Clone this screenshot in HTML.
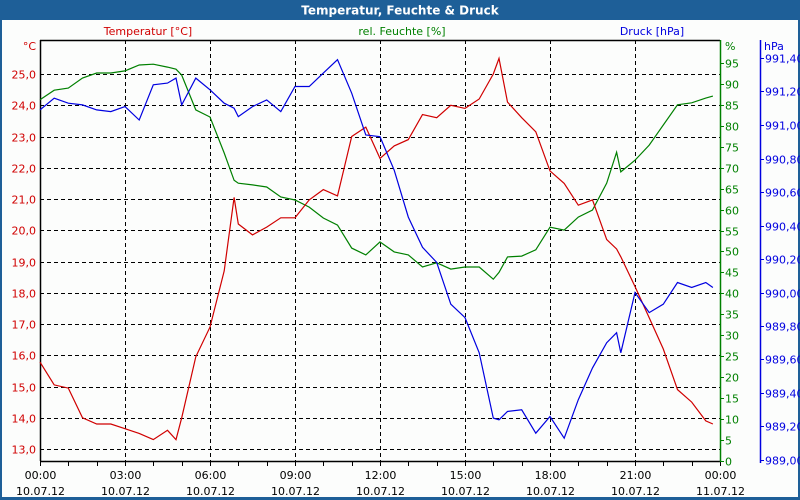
<!DOCTYPE html>
<html><head><meta charset="utf-8"><style>
body{margin:0;background:#fff;}
svg{display:block;font-family:"DejaVu Sans","Liberation Sans",sans-serif;}
</style></head><body>
<svg id="chart" width="800" height="500" xmlns="http://www.w3.org/2000/svg">
<rect x="0" y="0" width="800" height="500" fill="#1e5f98"/>
<rect x="2" y="20" width="796" height="477" fill="#fcfdfc"/>
<text x="400" y="14.5" text-anchor="middle" fill="#fff" font-weight="bold" font-size="12">Temperatur, Feuchte &amp; Druck</text>
<g id="grid"></g>
<g id="axes"></g>
<g id="series"></g>
</svg>
<script>
const times = [0,0.5,1,1.5,2,2.5,3,3.5,4,4.5,4.8,5,5.5,6,6.5,6.85,7,7.5,8,8.5,9,9.5,10,10.5,11,11.5,12,12.5,13,13.5,14,14.5,15,15.5,16,16.2,16.5,17,17.5,18,18.5,19,19.5,20,20.35,20.5,21,21.5,22,22.5,23,23.5,23.75];
const tempValues = [15.78,15.05,14.95,14.0,13.8,13.8,13.65,13.5,13.3,13.6,13.3,14.0,15.95,16.9,18.7,21.05,20.2,19.85,20.1,20.4,20.4,20.97,21.3,21.1,23.0,23.3,22.3,22.7,22.9,23.7,23.6,24.0,23.9,24.2,25.0,25.5,24.1,23.6,23.15,21.9,21.5,20.8,20.97,19.7,19.4,19.15,18.2,17.2,16.2,14.9,14.5,13.9,13.8];
const humidityValues = [86.2,88.5,89,91.4,92.6,92.6,93.1,94.5,94.7,94,93.5,92.1,83.8,82.1,73.5,67,66.3,65.9,65.4,63,62.3,60.6,58,56.3,50.8,49.2,52.3,49.9,49.2,46.3,47.3,45.8,46.3,46.3,43.4,45,48.7,48.9,50.4,55.8,55.1,58.2,59.9,66.3,73.7,69,71.8,75.4,80.2,85,85.5,86.6,87.1];
const pressureValues = [991.09,991.16,991.13,991.12,991.09,991.08,991.11,991.03,991.24,991.25,991.28,991.12,991.28,991.21,991.13,991.1,991.05,991.11,991.15,991.08,991.23,991.23,991.31,991.39,991.19,990.94,990.93,990.73,990.45,990.27,990.18,989.93,989.85,989.64,989.25,989.24,989.29,989.30,989.16,989.26,989.13,989.36,989.55,989.70,989.76,989.64,990.0,989.88,989.93,990.06,990.03,990.06,990.03];
const tempTicks = [13,14,15,16,17,18,19,20,21,22,23,24,25];
const humTicks = [0,5,10,15,20,25,30,35,40,45,50,55,60,65,70,75,80,85,90,95];
const presTicks = [989.0,989.2,989.4,989.6,989.8,990.0,990.2,990.4,990.6,990.8,991.0,991.2,991.4];
const timeTicks = [0,3,6,9,12,15,18,21,24];
const timeLabels = ["00:00","03:00","06:00","09:00","12:00","15:00","18:00","21:00","00:00"];
const dateLabels = ["10.07.12","10.07.12","10.07.12","10.07.12","10.07.12","10.07.12","10.07.12","10.07.12","11.07.12"];

const L=40,R=720,T=40,B=461;
const xS = t => L + t*(R-L)/24;
const yT = v => 74 + (25-v)*31.25;
const yH = v => 461 - v*4.19;
const yP = v => 460 - (v-989)*167.5;
const NS="http://www.w3.org/2000/svg";
function mk(tag, attrs, parent, txt){const e=document.createElementNS(NS,tag);for(const k in attrs)e.setAttribute(k,attrs[k]);if(txt!==undefined)e.textContent=txt;parent.appendChild(e);return e;}
const grid=document.getElementById('grid'), axes=document.getElementById('axes'), ser=document.getElementById('series');

tempTicks.forEach(v=>{const y=Math.round(yT(v))+0.5;
 const g=mk('line',{x1:L,x2:R,y1:y,y2:y,stroke:'#000','stroke-dasharray':'4,3','stroke-width':1},grid);
 
 
 const t=mk('text',{x:36,y:y+4,'text-anchor':'end','font-size':11,fill:'#d00000'},axes,v.toFixed(1).replace('.',','));
 
 
});
timeTicks.forEach((h,i)=>{const x=Math.round(xS(h))+0.5;
 if(h>0&&h<24){const g=mk('line',{x1:x,x2:x,y1:T,y2:B,stroke:'#000','stroke-dasharray':'4,3'},grid);
 
 }
 const t=mk('text',{x:x,y:479,'text-anchor':'middle','font-size':11,fill:'#000'},axes,timeLabels[i]);
 
 
 const d=mk('text',{x:x,y:495,'text-anchor':'middle','font-size':11,fill:'#000'},axes,dateLabels[i]);
 
 
});
for(let h=0;h<=24;h++){const x=Math.round(xS(h))+0.5;
 const k=mk('line',{x1:x,x2:x,y1:B,y2:B+5,stroke:'#000'},axes);
 
 }
let a=mk('line',{x1:L+0.5,x2:L+0.5,y1:T,y2:B,stroke:'#000','stroke-width':1.5},axes);


a=mk('line',{x1:L,x2:R,y1:T+0.5,y2:T+0.5,stroke:'#000','stroke-width':1.5},axes);


a=mk('line',{x1:L,x2:R,y1:B+0.5,y2:B+0.5,stroke:'#000','stroke-width':1.5},axes);


a=mk('line',{x1:R+0.5,x2:R+0.5,y1:T,y2:B+1,stroke:'#008000','stroke-width':1.5},axes);


a=mk('line',{x1:760.5,x2:760.5,y1:T,y2:463,stroke:'#0000e0','stroke-width':1.5},axes);


humTicks.forEach(v=>{const y=Math.round(yH(v))+0.5;
 const k=mk('line',{x1:R,x2:R+4,y1:y,y2:y,stroke:'#008000'},axes);
 
 
 const t=mk('text',{x:725,y:y+4,'font-size':11,fill:'#008000'},axes,String(v));
 
 
});
presTicks.forEach(v=>{const y=Math.round(yP(v))+0.5;
 const k=mk('line',{x1:760,x2:764,y1:y,y2:y,stroke:'#0000e0'},axes);
 
 
 const t=mk('text',{x:765,y:y+4,'font-size':11,fill:'#0000e0'},axes,v.toFixed(2).replace('.',','));
 
 
});
[['°C',36,50,'end','#d00000','temp-unit'],['%',725,50,'start','#008000','humidity-unit'],['hPa',764,50,'start','#0000e0','pressure-unit'],
 ['Temperatur [°C]',148,35,'middle','#d00000','temp-axis-title'],['rel. Feuchte [%]',402,35,'middle','#008000','humidity-axis-title'],['Druck [hPa]',652,35,'middle','#0000e0','pressure-axis-title']].forEach(o=>{
 const t=mk('text',{x:o[1],y:o[2],'text-anchor':o[3],'font-size':11,fill:o[4]},axes,o[0]);
 
 
});
function line(vals,yf,color,name){
 const d=vals.map((v,i)=>(i?'L':'M')+xS(times[i]).toFixed(1)+','+yf(v).toFixed(1)).join('');
 const p=mk('path',{d:d,fill:'none',stroke:color,'stroke-width':1.2},ser);
 
 
}
line(humidityValues,yH,'#008000','humidity-line');
line(tempValues,yT,'#d00000','temperature-line');
line(pressureValues,yP,'#0000e0','pressure-line');
</script>
</body></html>
